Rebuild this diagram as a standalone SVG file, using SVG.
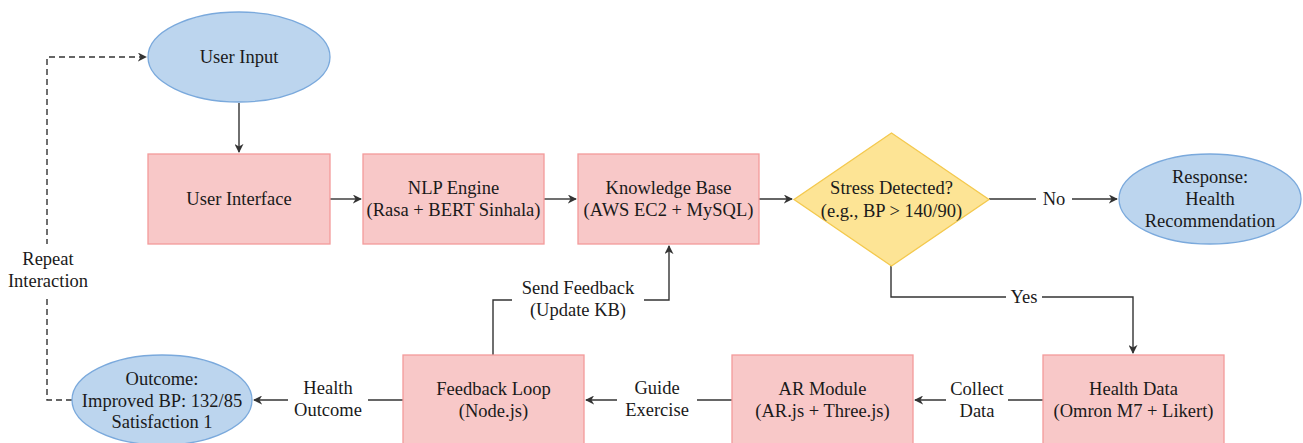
<svg xmlns="http://www.w3.org/2000/svg" width="1303" height="443" viewBox="0 0 1303 443">
<style>
.t{font-family:'Liberation Serif','Times New Roman',serif;font-size:18.5px;fill:#1a1a1a;text-anchor:middle}
.box{fill:#f8c8c8;stroke:#f39a9a;stroke-width:1.3}
.ell{fill:#bcd5ee;stroke:#7aa9dc;stroke-width:1.3}
.dia{fill:#fde495;stroke:#f4c94e;stroke-width:1.3}
.c{fill:none;stroke:#333;stroke-width:1.4}
.d{fill:none;stroke:#333;stroke-width:1.4;stroke-dasharray:6 4}
.bg{fill:#fff}
</style>
<defs>
<marker id="a" viewBox="0 0 10 10" refX="9" refY="5" markerWidth="9" markerHeight="9" markerUnits="userSpaceOnUse" orient="auto">
<path d="M0,0 L10,5 L0,10 L3,5 z" fill="#333"/>
</marker>
</defs>
<rect width="1303" height="443" fill="#fff"/>
<g id="connectors">
<path class="c" d="M239,103 V152" marker-end="url(#a)"/>
<path class="c" d="M330,199 H361" marker-end="url(#a)"/>
<path class="c" d="M544,199 H576" marker-end="url(#a)"/>
<path class="c" d="M759,199 H792" marker-end="url(#a)"/>
<path class="c" d="M989,199 H1117" marker-end="url(#a)"/>
<rect class="bg" x="1036" y="187" width="36" height="24"/>
<text class="t" x="1054" y="205">No</text>
<path class="c" d="M891,266 V297 H1133 V353" marker-end="url(#a)"/>
<rect class="bg" x="1006" y="286" width="36" height="22"/>
<text class="t" x="1024" y="303">Yes</text>
<path class="c" d="M1043,400 H915" marker-end="url(#a)"/>
<rect class="bg" x="946" y="376" width="62" height="48"/>
<text class="t" x="977" y="395">Collect</text>
<text class="t" x="977" y="417">Data</text>
<path class="c" d="M732,400 H586" marker-end="url(#a)"/>
<rect class="bg" x="617" y="376" width="80" height="48"/>
<text class="t" x="657" y="394">Guide</text>
<text class="t" x="657" y="416">Exercise</text>
<path class="c" d="M403,400 H254" marker-end="url(#a)"/>
<rect class="bg" x="288" y="376" width="80" height="48"/>
<text class="t" x="328" y="394">Health</text>
<text class="t" x="328" y="416">Outcome</text>
<path class="c" d="M493,355 V300 H669 V246" marker-end="url(#a)"/>
<rect class="bg" x="512" y="277" width="132" height="48"/>
<text class="t" x="578" y="294">Send Feedback</text>
<text class="t" x="578" y="316">(Update KB)</text>
<path class="d" d="M72,400 H47 V57 H146" marker-end="url(#a)"/>
<rect class="bg" x="4" y="244" width="88" height="53"/>
<text class="t" x="48" y="265">Repeat</text>
<text class="t" x="48" y="287">Interaction</text>
</g>
<g id="user-input">
<ellipse class="ell" cx="239" cy="57" rx="91" ry="45"/>
<text class="t" x="239" y="63">User Input</text>
</g>
<g id="user-interface">
<rect class="box" x="148" y="154" width="182" height="90"/>
<text class="t" x="239" y="205">User Interface</text>
</g>
<g id="nlp-engine">
<rect class="box" x="363" y="154" width="181" height="90"/>
<text class="t" x="453.5" y="194">NLP Engine</text>
<text class="t" x="453.5" y="216">(Rasa + BERT Sinhala)</text>
</g>
<g id="knowledge-base">
<rect class="box" x="578" y="154" width="181" height="90"/>
<text class="t" x="668.5" y="194">Knowledge Base</text>
<text class="t" x="668.5" y="216">(AWS EC2 + MySQL)</text>
</g>
<g id="stress-detected">
<polygon class="dia" points="891.5,133 989,199.5 891.5,266 794,199.5"/>
<text class="t" x="891.5" y="194">Stress Detected?</text>
<text class="t" x="891.5" y="217">(e.g., BP &gt; 140/90)</text>
</g>
<g id="response">
<ellipse class="ell" cx="1210" cy="199" rx="91" ry="45"/>
<text class="t" x="1210" y="183">Response:</text>
<text class="t" x="1210" y="205">Health</text>
<text class="t" x="1210" y="227">Recommendation</text>
</g>
<g id="health-data">
<rect class="box" x="1043" y="355" width="181" height="90"/>
<text class="t" x="1133.5" y="395">Health Data</text>
<text class="t" x="1133.5" y="417">(Omron M7 + Likert)</text>
</g>
<g id="ar-module">
<rect class="box" x="732" y="355" width="181" height="90"/>
<text class="t" x="822.5" y="395">AR Module</text>
<text class="t" x="822.5" y="417">(AR.js + Three.js)</text>
</g>
<g id="feedback-loop">
<rect class="box" x="403" y="355" width="181" height="90"/>
<text class="t" x="493.5" y="395">Feedback Loop</text>
<text class="t" x="493.5" y="417">(Node.js)</text>
</g>
<g id="outcome">
<ellipse class="ell" cx="162" cy="400" rx="90" ry="45"/>
<text class="t" x="162" y="385">Outcome:</text>
<text class="t" x="162" y="407">Improved BP: 132/85</text>
<text class="t" x="162" y="428">Satisfaction 1</text>
</g>
</svg>
